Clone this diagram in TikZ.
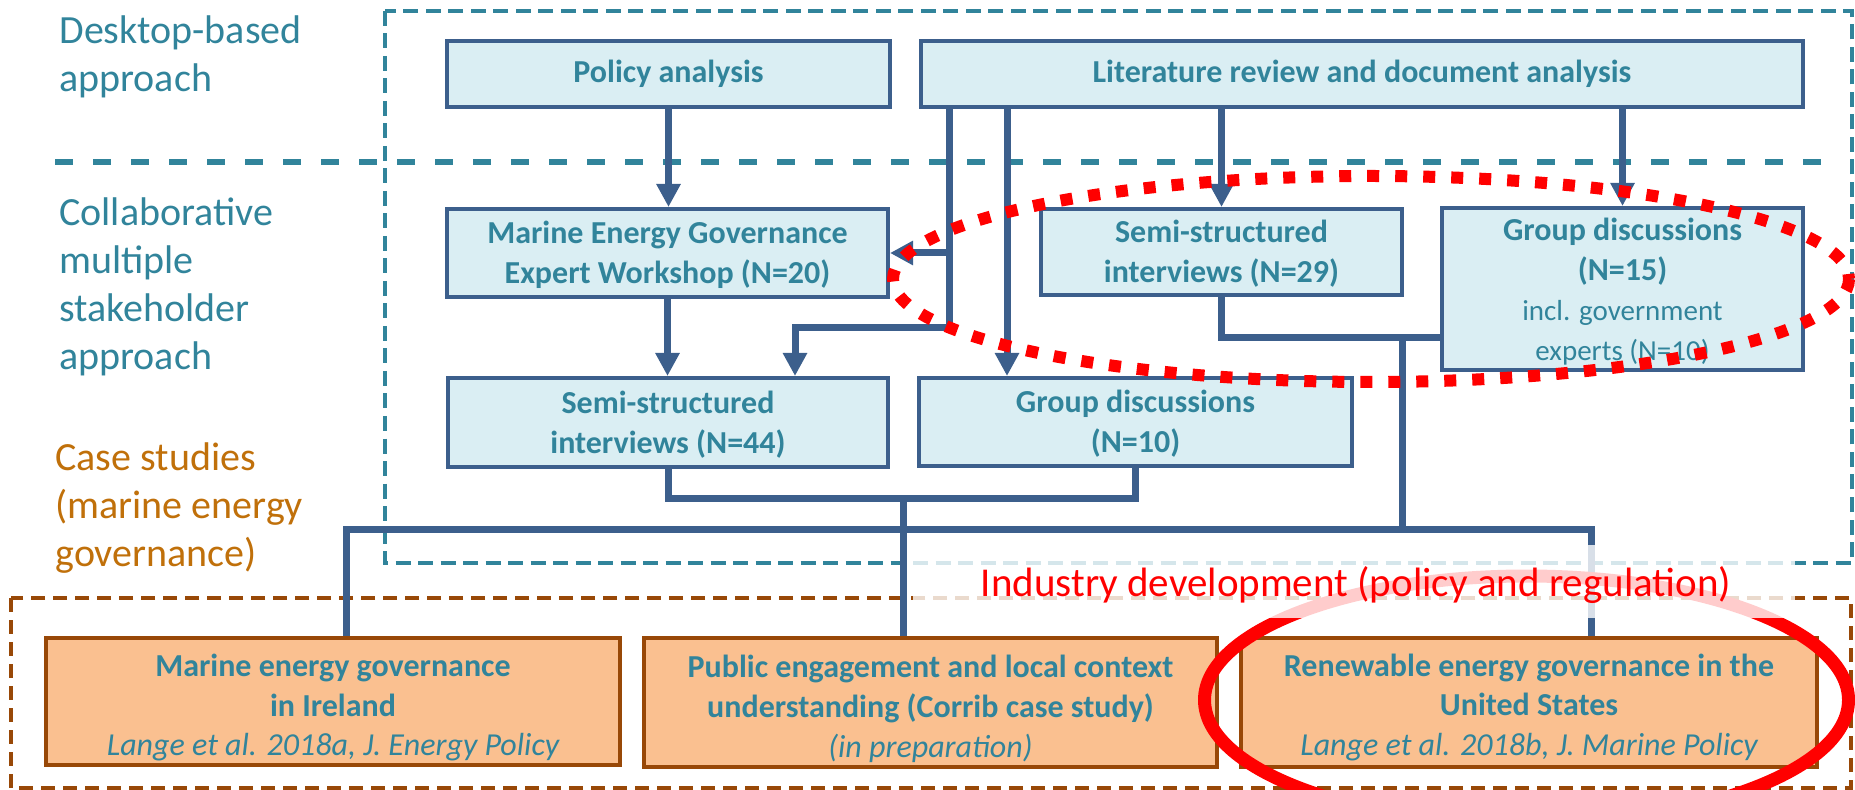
\documentclass[tikz,border=0pt]{standalone}
\usepackage{fontspec}
\setmainfont{Carlito}
\usetikzlibrary{arrows.meta}

\definecolor{linkblue}{RGB}{60,95,140}
\definecolor{boxfill}{HTML}{DAEEF3}
\definecolor{tealtxt}{HTML}{31849B}
\definecolor{casefill}{HTML}{FAC090}
\definecolor{casebrown}{HTML}{984807}
\definecolor{caselabel}{RGB}{192,112,10}

\begin{document}
\begin{tikzpicture}[x=0.5pt, y=-0.5pt,
  method/.style={draw=linkblue, line width=2pt, fill=boxfill, text=tealtxt, align=center,
    inner sep=0pt, font=\fontsize{16}{20}\selectfont\bfseries},
  casebox/.style={method, draw=casebrown, fill=casefill, font=\fontsize{16}{19.8}\selectfont\bfseries},
  link/.style={draw=linkblue, line width=3.5pt},
  linkarrow/.style={link, -{Triangle[width=11.5pt,length=11.5pt]}},
  sidelabel/.style={anchor=base west, align=left, inner sep=0pt, font=\fontsize{20}{24}\selectfont}
]
\useasboundingbox (0,0) rectangle (1855,790);

% Frames
\draw[tealtxt, line width=2.4pt, dash pattern=on 7.5pt off 3.75pt] (385,11) rectangle (1852,563);
\draw[tealtxt, line width=2.6pt, dash pattern=on 9pt off 10pt] (55,162) -- (1823,162);
\draw[casebrown, line width=2.4pt, dash pattern=on 7pt off 4pt] (11,598) rectangle (1851,788);

% Side labels (anchored at the last line)
\node[sidelabel, text=tealtxt] (desk) at (59,92) {Desktop-based\\approach};
\node[sidelabel, text=tealtxt] (collab) at (59,370) {Collaborative\\multiple\\stakeholder\\approach};
\node[sidelabel, text=caselabel] (cases) at (55,566) {Case studies\\(marine energy\\governance)};

% Desktop-based
\node[method, minimum width=221.5pt, minimum height=33pt] (policy) at (668.5,74) {Policy analysis};
\node[method, minimum width=441pt, minimum height=33pt] (lit) at (1362,74) {Literature review and document analysis};

% Collaborative
\node[method, minimum width=220.5pt, minimum height=44pt] (meg) at (667.5,253) {\rule{0pt}{13pt}Marine Energy Governance\\Expert Workshop (N=20)};
\node[method, minimum width=180.5pt, minimum height=43pt] (ssi29) at (1221.5,252) {\rule{0pt}{13pt}Semi-structured\\interviews (N=29)};
\node[method, minimum width=180.5pt, minimum height=81pt] (gd15) at (1622.5,289)
  {\rule{0pt}{14pt}Group discussions\\(N=15)\\{\mdseries\fontsize{14.5}{17.5}\selectfont incl. government}\\{\mdseries\fontsize{14.5}{17.5}\selectfont experts (N=10)}};
\node[method, minimum width=220pt, minimum height=44.5pt] (ssi44) at (668,422.5) {\rule{0pt}{13pt}Semi-structured\\interviews (N=44)};
\node[method, minimum width=216.5pt, minimum height=44pt] (gd10) at (1135.5,422) {\rule{0pt}{13pt}Group discussions\\(N=10)};

% Case studies
\node[casebox, minimum width=287pt, minimum height=63.5pt] (irl) at (333,701.5)
  {\rule{0pt}{17.5pt}Marine energy governance\\in Ireland\\{\mdseries\itshape Lange et al. 2018a, J. Energy Policy}};
\node[casebox, minimum width=286.5pt, minimum height=64.5pt] (pub) at (930.5,702.5)
  {\rule{0pt}{17.5pt}Public engagement and local context\\understanding (Corrib case study)\\{\mdseries\itshape (in preparation)}};
\node[casebox, minimum width=288pt, minimum height=64.5pt] (usa) at (1529,702.5)
  {\rule{0pt}{16pt}Renewable energy governance in the\\United States\\{\mdseries\itshape Lange et al. 2018b, J. Marine Policy}};

% Connectors
\coordinate (t1) at (949,328);
\coordinate (t1b) at (795,328);
\coordinate (t2) at (1007,107);
\coordinate (m2) at (1402,338);
\coordinate (c1) at (903,498);
\coordinate (b1) at (346,529);
\coordinate (b2) at (1402,529);
\coordinate (b3) at (1591,529);

\draw[linkarrow] (policy.south) -- (policy.south |- meg.north);
\draw[linkarrow] (meg.south) -- (meg.south |- ssi44.north);
\draw[linkarrow] (lit.south -| t1) -- (t1) -- (t1b) -- (t1b |- ssi44.north);
\draw[linkarrow] (t1 |- meg.east) -- (meg.east);
\draw[linkarrow] (lit.south -| t2) -- (t2 |- gd10.north);
\draw[linkarrow] (lit.south -| ssi29.north) -- (ssi29.north);
\draw[linkarrow] (lit.south -| gd15.north) -- (gd15.north);
\draw[link] (ssi29.south) -- (ssi29.south |- m2) -- (gd15.west |- m2);
\draw[link] (m2) -- (b2);
\draw[link] (ssi44.south) -- (ssi44.south |- c1) -- (gd10.south |- c1) -- (gd10.south);
\draw[link] (c1) -- (c1 |- pub.north);
\draw[link] (b1 |- irl.north) -- (b1) -- (b3) -- (b3 |- usa.north);

% Highlights
\draw[red, line width=6pt, dash pattern=on 6pt off 8pt] (1371,279) ellipse [x radius=478, y radius=103];
\draw[red, line width=6.5pt] (1526.5,700) ellipse [x radius=322, y radius=124];
\fill[white, opacity=0.8] (913,545) rectangle (1795,618);
\node[text=red, anchor=base, inner sep=0pt, font=\fontsize{20.5}{24}\selectfont] (industry) at (1356,596)
  {Industry development (policy and regulation)};
\end{tikzpicture}
\end{document}
